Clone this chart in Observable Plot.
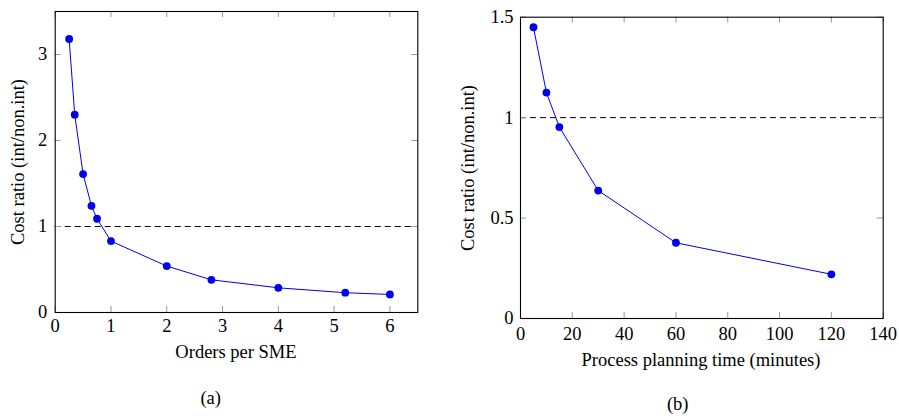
<!DOCTYPE html>
<html><head><meta charset="utf-8">
<script src="https://cdn.jsdelivr.net/npm/d3@7"></script>
<script src="https://cdn.jsdelivr.net/npm/@observablehq/plot@0.6"></script>
<style>
body{margin:0;background:#fff;}
#fig{position:relative;width:899px;height:416px;overflow:hidden;font-family:"Liberation Serif","Times New Roman",serif;}
#fig svg{position:absolute;top:0;overflow:visible;}
.lbl{position:absolute;font-size:18.5px;color:#000;white-space:nowrap;line-height:1;font-family:"Liberation Serif","Times New Roman",serif;}
</style></head><body><div id="fig"></div>
<script>
// Panel (a)
const ordersPerSME = [0.25, 0.35, 0.5, 0.65, 0.75, 1, 2, 2.8, 4, 5.2, 6];
const costRatioA   = [3.18, 2.30, 1.61, 1.24, 1.09, 0.83, 0.54, 0.38, 0.287, 0.23, 0.21];
const xTicksA = [0, 1, 2, 3, 4, 5, 6];
const yTicksA = [0, 1, 2, 3];
// Panel (b)
const planningMinutes = [5, 10, 15, 30, 60, 120];
const costRatioB      = [1.45, 1.125, 0.953, 0.637, 0.377, 0.22];
const xTicksB = [0, 20, 40, 60, 80, 100, 120, 140];
const yTicksB = [0, 0.5, 1, 1.5];
const breakEven = [1];

const labelsText = {
  xA: "Orders per SME",
  yA: "Cost ratio (int/non.int)",
  capA: "(a)",
  xB: "Process planning time (minutes)",
  yB: "Cost ratio (int/non.int)",
  capB: "(b)"
};

const fig = document.getElementById("fig");
const BLUE = "#0000ee";
const TICK = 6;

function panel(o) {
  const fw = o.width - o.ml - o.mr;
  const fh = o.height - o.mt - o.mb;
  const data = o.xs.map((x, i) => ({x, y: o.ys[i]}));
  const svg = Plot.plot({
    width: o.width, height: o.height,
    marginLeft: o.ml, marginRight: o.mr, marginTop: o.mt, marginBottom: o.mb,
    x: {domain: o.xDomain, label: null},
    y: {domain: o.yDomain, label: null},
    style: {fontFamily: "'Liberation Serif', 'Times New Roman', serif", fontSize: "18.5px", color: "#000", background: "transparent"},
    marks: [
      Plot.ruleY(breakEven, {stroke: "#000", strokeWidth: 1, strokeDasharray: "6,4"}),
      Plot.tickX(o.xTicks, {x: d => d, stroke: "#999", insetTop: fh - TICK}),
      Plot.tickX(o.xTicks, {x: d => d, stroke: "#999", insetBottom: fh - TICK}),
      Plot.tickY(o.yTicks, {y: d => d, stroke: "#999", insetRight: fw - TICK}),
      Plot.tickY(o.yTicks, {y: d => d, stroke: "#999", insetLeft: fw - TICK}),
      Plot.axisX({ticks: o.xTicks, tickSize: 0, tickPadding: o.xPad, tickFormat: d => String(d), label: null}),
      Plot.axisY({ticks: o.yTicks, tickSize: 0, tickPadding: o.yPad, tickFormat: d => String(d), label: null}),
      Plot.line(data, {x: "x", y: "y", stroke: BLUE, strokeWidth: 1}),
      Plot.dot(data, {x: "x", y: "y", r: 3.9, fill: BLUE, stroke: "none"}),
      Plot.frame({stroke: "#000", strokeWidth: 1.1})
    ]
  });
  svg.style.left = o.left + "px";
  fig.appendChild(svg);
}

panel({left: 0, width: 450, height: 416, ml: 54.7, mr: 32.7, mt: 11, mb: 104,
  xs: ordersPerSME, ys: costRatioA, xDomain: [0, 6.5], yDomain: [0, 3.5],
  xTicks: xTicksA, yTicks: yTicksA, xPad: 6, yPad: 8});
panel({left: 450, width: 449, height: 416, ml: 70, mr: 16.3, mt: 16.7, mb: 98,
  xs: planningMinutes, ys: costRatioB, xDomain: [0, 140], yDomain: [0, 1.5],
  xTicks: xTicksB, yTicks: yTicksB, xPad: 8, yPad: 7});

function label(text, cx, cy, rot) {
  const d = document.createElement("div");
  d.className = "lbl";
  d.textContent = text;
  d.style.left = cx + "px";
  d.style.top = cy + "px";
  d.style.transform = "translate(-50%,-50%)" + (rot ? " rotate(-90deg)" : "");
  fig.appendChild(d);
}
label(labelsText.xA, 236, 352, false);
label(labelsText.yA, 17.5, 161.7, true);
label(labelsText.capA, 210.7, 397.5, false);
label(labelsText.xB, 701, 360, false);
label(labelsText.yB, 467.5, 167.5, true);
label(labelsText.capB, 677.7, 403.5, false);
</script></body></html>
